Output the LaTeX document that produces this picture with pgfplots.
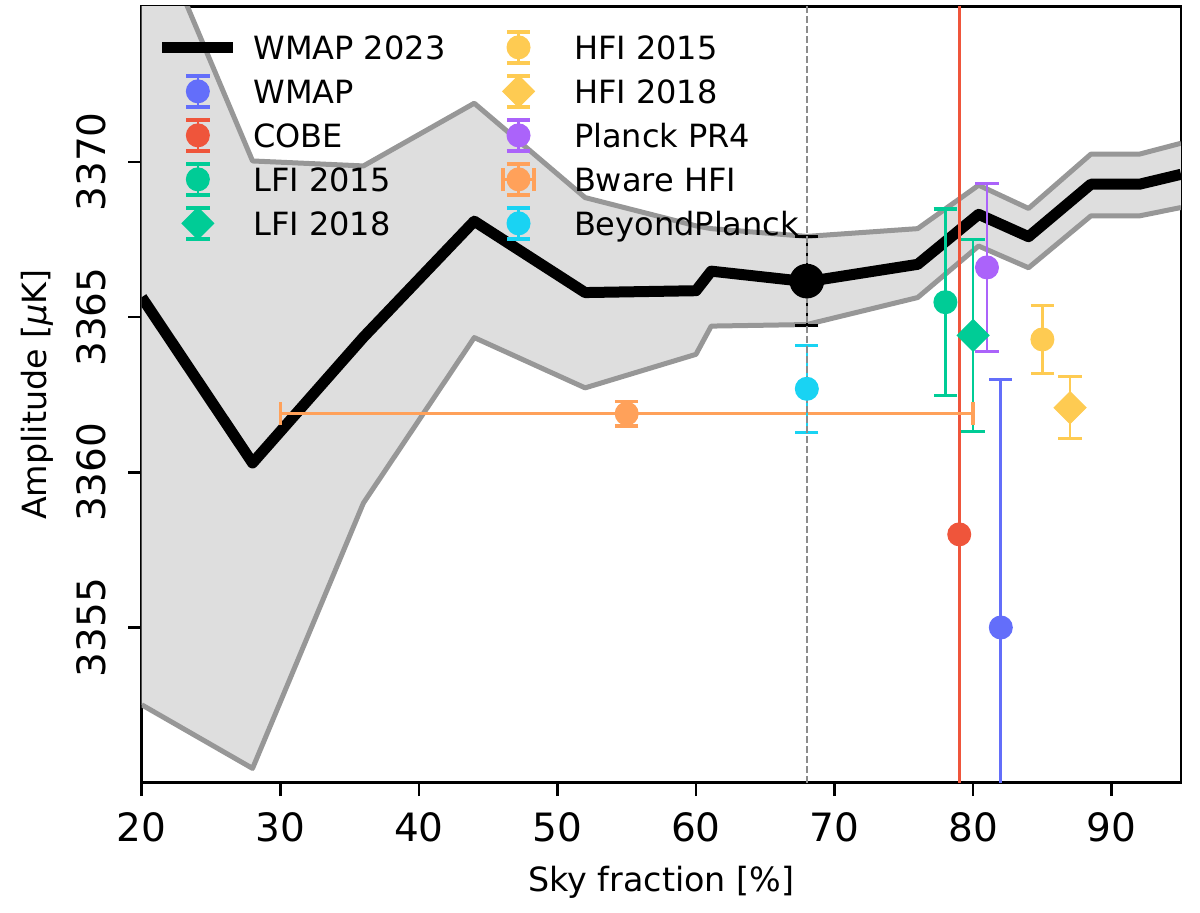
\documentclass[border=0pt]{standalone}
\usepackage{fontspec}
\setmainfont{DejaVu Sans}
\usepackage{pgfplots}
\pgfplotsset{compat=1.18}
\definecolor{cwmap}{HTML}{636EFA}
\definecolor{ccobe}{HTML}{EF553B}
\definecolor{clfi}{HTML}{00CC96}
\definecolor{cpr4}{HTML}{AB63FA}
\definecolor{cbware}{HTML}{FFA15A}
\definecolor{cbp}{HTML}{19D3F3}
\definecolor{chfi}{HTML}{FECB52}
\definecolor{bandfill}{HTML}{DEDEDE}
\definecolor{edgegray}{HTML}{979797}
\definecolor{vgray}{HTML}{8C8C8C}
\newcommand{\ly}{0pt}
\newcommand{\lgbox}{\path[draw=none,fill=none] (0pt,0pt) -- (21.3pt,0pt);}
\newcommand{\lgbars}[1]{%
  \draw[#1, line width=0.8pt] (10.65pt,-4.65pt) -- (10.65pt,4.65pt);
  \draw[#1, line width=1pt] (7.15pt,-4.65pt) -- (14.15pt,-4.65pt) (7.15pt,4.65pt) -- (14.15pt,4.65pt);}
\newcommand{\lgcirc}[1]{\lgbox\begin{scope}[overlay,yshift=\ly]\lgbars{#1}\fill[#1] (10.65pt,0pt) circle (3.4pt);\end{scope}}
\newcommand{\lgdiam}[1]{\lgbox\begin{scope}[overlay,yshift=\ly]\lgbars{#1}\fill[#1] (10.65pt,4.7pt) -- (15.35pt,0pt) -- (10.65pt,-4.7pt) -- (5.95pt,0pt) -- cycle;\end{scope}}
\newcommand{\lgbware}[1]{\lgbox\begin{scope}[overlay,yshift=\ly]\lgbars{#1}
  \draw[#1, line width=0.8pt] (6pt,0pt) -- (15.3pt,0pt);
  \draw[#1, line width=1pt] (6pt,-3.5pt) -- (6pt,3.5pt) (15.3pt,-3.5pt) -- (15.3pt,3.5pt);
  \fill[#1] (10.65pt,0pt) circle (3.4pt);\end{scope}}
\newcommand{\lgline}{\lgbox\begin{scope}[overlay,yshift=\ly]\draw[black, line width=3.3pt] (0pt,0pt) -- (21.3pt,0pt);\end{scope}}
\pgfplotsset{
  ebar/.style={only marks, mark=*, mark size=3.4pt, forget plot,
    error bars/y dir=both, error bars/y explicit,
    error bars/error bar style={line width=0.8pt},
    error bars/error mark options={rotate=90, line width=1pt, mark size=3.5pt}},
  dmark/.style={mark=square*, mark size=3.33pt, mark options={rotate=45}},
}
\begin{document}
\begin{tikzpicture}
\useasboundingbox (-42.51pt,-39.09pt) rectangle (317.49pt,234.81pt);
\begin{axis}[
  at={(0pt,0pt)}, anchor=south west,
  scale only axis, width=311.79pt, height=232.8pt,
  xmin=20, xmax=95, ymin=3350, ymax=3375,
  xtick={20,30,...,90}, ytick={3355,3360,3365,3370},
  tick align=outside, tick pos=left, major tick length=4pt,
  every tick/.style={black, line width=0.8pt},
  axis line style={line width=0.8pt},
  /pgf/number format/assume math mode=true,
  /pgf/number format/1000 sep={},
  tick label style={font=\fontsize{11.7}{14}\selectfont},
  xticklabel style={anchor=north, inner sep=0pt},
  xticklabel shift=4.7pt,
  yticklabel style={rotate=90, anchor=south, inner sep=0pt},
  yticklabel shift=6.4pt,
  label style={font=\fontsize{11.7}{14}\selectfont},
  every axis x label/.style={at={(axis description cs:0.5,-0.1405)}, anchor=base, inner sep=0pt},
  every axis y label/.style={at={(axis description cs:-0.0914,0.5)}, rotate=90, anchor=base, inner sep=0pt},
  xlabel={Sky fraction [\%]},
  ylabel={Amplitude [{\itshape μ}K]},
  legend columns=2,
  legend cell align=left,
  legend style={at={(rel axis cs:0,1)}, anchor=north west, xshift=6pt, yshift=-5.4pt,
    draw=none, fill=none, inner sep=0pt, column sep=6pt, row sep=0pt,
    font=\fontsize{9.6}{11}\selectfont,
    nodes={inner sep=0pt, text height=10.1pt, text depth=3.1pt}},
]
% uncertainty band
\addplot[draw=none, fill=bandfill, forget plot] coordinates {
  (20,3378.5) (28,3370.03) (36,3369.87) (44,3371.89) (52,3368.85) (60,3367.94)
  (61.1,3367.85) (68,3367.6) (76,3367.85) (80.4,3369.25) (84,3368.5) (88.5,3370.25)
  (92,3370.25) (95,3370.6)
  (95,3368.53) (92,3368.26) (88.5,3368.26) (84,3366.59) (80.4,3367.29) (76,3365.63)
  (68,3364.76) (61.1,3364.71) (60,3363.8) (52,3362.72) (44,3364.34) (36,3359.01)
  (28,3350.46) (20,3352.51)};
\addplot[edgegray, line width=1.5pt, line join=round, forget plot] coordinates {
  (20,3378.5) (28,3370.03) (36,3369.87) (44,3371.89) (52,3368.85) (60,3367.94)
  (61.1,3367.85) (68,3367.6) (76,3367.85) (80.4,3369.25) (84,3368.5) (88.5,3370.25)
  (92,3370.25) (95,3370.6)};
\addplot[edgegray, line width=1.5pt, line join=round, forget plot] coordinates {
  (20,3352.51) (28,3350.46) (36,3359.01) (44,3364.34) (52,3362.72) (60,3363.8)
  (61.1,3364.71) (68,3364.76) (76,3365.63) (80.4,3367.29) (84,3366.59) (88.5,3368.26)
  (92,3368.26) (95,3368.53)};
% WMAP 2023 mean
\addplot[black, line width=3.3pt, line join=round, forget plot] coordinates {
  (20,3365.64) (28,3360.3) (36,3364.35) (44,3368.09) (52,3365.79) (60,3365.85)
  (61.1,3366.48) (68,3366.14) (76,3366.7) (80.4,3368.31) (84,3367.59) (88.5,3369.28)
  (92,3369.28) (95,3369.6)};
% data points
\addplot[black, ebar, mark size=5pt] coordinates {(68,3366.16) +- (0,1.43)};
\addplot[cwmap, ebar] coordinates {(82,3355) +- (0,8)};
\addplot[ccobe, ebar] coordinates {(79,3358) +- (0,30)};
\addplot[clfi, ebar] coordinates {(78,3365.48) +- (0,3.0)};
\addplot[clfi, ebar, dmark] coordinates {(80,3364.41) +- (0,3.1)};
\addplot[chfi, ebar] coordinates {(85,3364.28) +- (0,1.1)};
\addplot[chfi, ebar, dmark] coordinates {(87,3362.08) +- (0,1.0)};
\addplot[cpr4, ebar] coordinates {(81,3366.6) +- (0,2.7)};
\addplot[cbware, ebar, error bars/x dir=both, error bars/x explicit] coordinates {(55,3361.89) +- (25,0.4)};
\addplot[cbp, ebar] coordinates {(68,3362.69) +- (0,1.4)};
% fiducial sky fraction
\addplot[vgray, line width=0.5pt, dash pattern=on 2pt off 1pt, forget plot] coordinates {(68,3340) (68,3390)};
% legend
\addlegendimage{legend image code/.code={\lgline}}
\addlegendentry{\makebox[62.9pt][l]{WMAP 2023}}
\addlegendimage{legend image code/.code={\lgcirc{chfi}}}
\addlegendentry{HFI 2015}
\addlegendimage{legend image code/.code={\lgcirc{cwmap}}}
\addlegendentry{\makebox[62.9pt][l]{WMAP}}
\addlegendimage{legend image code/.code={\lgdiam{chfi}}}
\addlegendentry{HFI 2018}
\addlegendimage{legend image code/.code={\lgcirc{ccobe}}}
\addlegendentry{\makebox[62.9pt][l]{COBE}}
\addlegendimage{legend image code/.code={\lgcirc{cpr4}}}
\addlegendentry{Planck PR4}
\addlegendimage{legend image code/.code={\lgcirc{clfi}}}
\addlegendentry{\makebox[62.9pt][l]{LFI 2015}}
\addlegendimage{legend image code/.code={\lgbware{cbware}}}
\addlegendentry{Bware HFI}
\addlegendimage{legend image code/.code={\lgdiam{clfi}}}
\addlegendentry{\makebox[62.9pt][l]{LFI 2018}}
\addlegendimage{legend image code/.code={\lgcirc{cbp}}}
\addlegendentry{BeyondPlanck}
\end{axis}
\end{tikzpicture}
\end{document}
